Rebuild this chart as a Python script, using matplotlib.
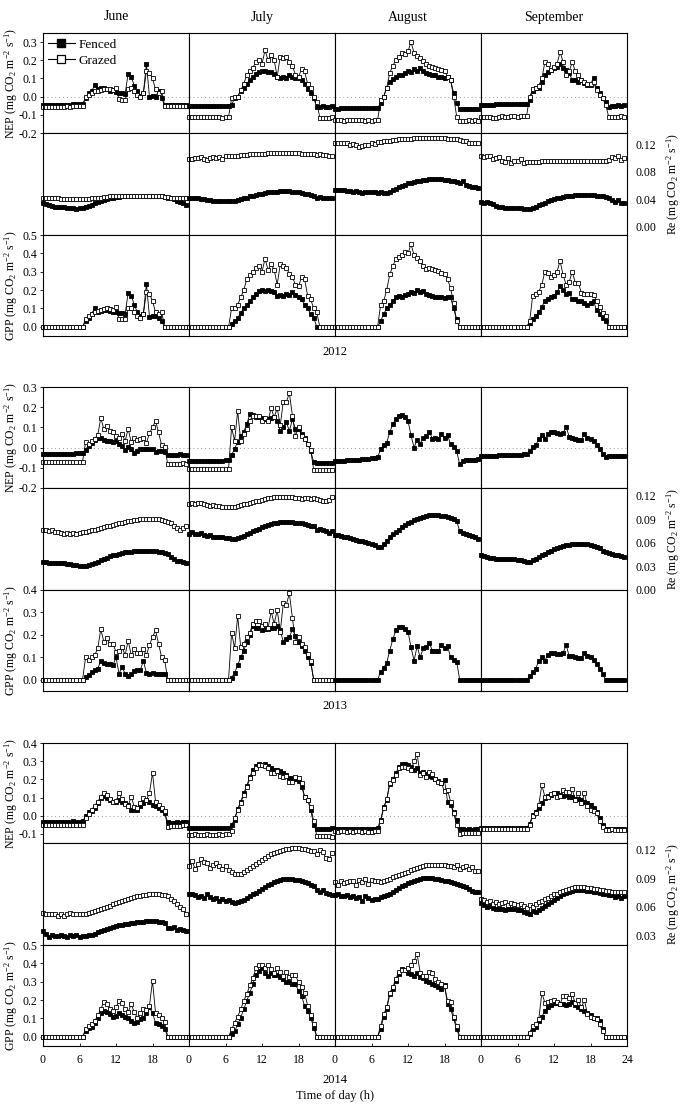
import numpy as np
import matplotlib
matplotlib.use('Agg')
import matplotlib.pyplot as plt
from matplotlib.lines import Line2D

plt.rcParams['font.family'] = 'Liberation Serif'
plt.rcParams['mathtext.default'] = 'regular'
plt.rcParams['axes.unicode_minus'] = False

hours = np.arange(48) * 0.5
months = ['June', 'July', 'August', 'September']
years = ['2012', '2013', '2014']
Z = 0.0

# ---------------- 2012 ----------------
nep12_f = [
    [-0.047, -0.047, -0.046, -0.046, -0.046, -0.045, -0.045, -0.045, -0.044, -0.044, -0.043, -0.043, -0.042, -0.042,
     -0.005, 0.02, 0.03, 0.063, 0.04, 0.045, 0.05, 0.04, 0.03, 0.035, 0.025, 0.02, 0.02, 0.015, 0.127, 0.11, 0.06,
     0.03, 0.005, 0.02, 0.18, 0.0, 0.005, 0.0, 0.03, -0.01, -0.045,
     -0.045, -0.044, -0.045, -0.044, -0.045, -0.044, -0.045],
    [-0.05, -0.051, -0.05, -0.05, -0.051, -0.052, -0.052, -0.051, -0.05, -0.05, -0.05, -0.049, -0.049, -0.05,
     -0.045, -0.01, 0.0, 0.03, 0.05, 0.07, 0.09, 0.11, 0.125, 0.135, 0.14, 0.14, 0.135, 0.135, 0.125, 0.11, 0.105,
     0.11, 0.105, 0.12, 0.11, 0.105, 0.10, 0.09, 0.07, 0.04, 0.02, -0.01,
     -0.055, -0.055, -0.054, -0.055, -0.055, -0.054],
    [-0.066, -0.066, -0.065, -0.065, -0.065, -0.064, -0.064, -0.064, -0.063, -0.063, -0.063, -0.062, -0.062, -0.062, -0.062,
     -0.035, 0.0, 0.05, 0.08, 0.095, 0.11, 0.12, 0.12, 0.13, 0.14, 0.135, 0.15, 0.14, 0.155, 0.14, 0.13, 0.125, 0.12,
     0.12, 0.11, 0.11, 0.105, 0.11, 0.09, 0.02, -0.035,
     -0.07, -0.069, -0.069, -0.068, -0.068, -0.068, -0.068],
    [-0.045, -0.047, -0.044, -0.046, -0.045, -0.043, -0.042, -0.042, -0.041, -0.041, -0.04, -0.04, -0.04, -0.04, -0.04, -0.04,
     -0.02, 0.03, 0.045, 0.05, 0.08, 0.12, 0.135, 0.145, 0.155, 0.165, 0.18, 0.155, 0.145, 0.13, 0.09, 0.09, 0.08,
     0.09, 0.075, 0.065, 0.065, 0.105, 0.045, 0.02, -0.01, -0.03,
     -0.055, -0.05, -0.052, -0.048, -0.05, -0.047],
]
nep12_g = [
    [-0.056, -0.055, -0.055, -0.056, -0.055, -0.055, -0.055, -0.055, -0.054, -0.055, -0.054, -0.054, -0.054, -0.054,
     0.0, 0.01, 0.02, 0.03, 0.03, 0.035, 0.04, 0.04, 0.04, 0.035, 0.05, -0.015, -0.02, -0.02, 0.04, 0.05, 0.03,
     0.01, 0.0, 0.02, 0.14, 0.13, 0.10, 0.04, 0.02, 0.03, -0.05,
     -0.05, -0.05, -0.052, -0.05, -0.05, -0.05, -0.051],
    [-0.113, -0.113, -0.112, -0.114, -0.112, -0.111, -0.113, -0.114, -0.112, -0.113, -0.114, -0.115, -0.114, -0.113,
     -0.01, 0.0, 0.0, 0.035, 0.07, 0.12, 0.14, 0.16, 0.19, 0.20, 0.18, 0.255, 0.20, 0.23, 0.20, 0.11, 0.22, 0.21,
     0.22, 0.19, 0.17, 0.12, 0.11, 0.15, 0.14, 0.07, 0.05, 0.0, -0.03,
     -0.115, -0.115, -0.116, -0.115, -0.114],
    [-0.13, -0.131, -0.13, -0.132, -0.13, -0.131, -0.13, -0.129, -0.13, -0.131, -0.133, -0.13, -0.135, -0.128, -0.13,
     -0.02, 0.0, 0.05, 0.13, 0.17, 0.20, 0.22, 0.24, 0.235, 0.25, 0.30, 0.24, 0.225, 0.215, 0.195, 0.18, 0.17, 0.165,
     0.155, 0.15, 0.145, 0.14, 0.11, 0.09, 0.0, -0.11,
     -0.135, -0.132, -0.132, -0.131, -0.132, -0.131, -0.132],
    [-0.11, -0.112, -0.114, -0.113, -0.115, -0.115, -0.114, -0.108, -0.11, -0.112, -0.106, -0.108, -0.11, -0.108, -0.106, -0.104,
     0.0, 0.04, 0.05, 0.06, 0.10, 0.19, 0.18, 0.145, 0.165, 0.18, 0.245, 0.19, 0.12, 0.14, 0.19, 0.14, 0.12, 0.09,
     0.08, 0.07, 0.07, 0.08, 0.035, 0.01, -0.01, -0.045,
     -0.113, -0.113, -0.112, -0.11, -0.108, -0.11],
]
re12_f = [
    [0.034, 0.033, 0.031, 0.030, 0.029, 0.029, 0.028, 0.028, 0.027, 0.027, 0.027, 0.026, 0.027, 0.027, 0.028, 0.030,
     0.032, 0.034, 0.036, 0.037, 0.039, 0.040, 0.041, 0.042, 0.043, 0.043, 0.044, 0.044, 0.045, 0.045, 0.045, 0.045,
     0.045, 0.045, 0.045, 0.045, 0.045, 0.044, 0.044, 0.044, 0.043, 0.042, 0.041, 0.040, 0.038, 0.036, 0.034, 0.031],
    [0.042, 0.041, 0.041, 0.042, 0.040, 0.040, 0.039, 0.039, 0.038, 0.038, 0.038, 0.037, 0.037, 0.037, 0.038, 0.038,
     0.039, 0.040, 0.041, 0.042, 0.044, 0.045, 0.046, 0.047, 0.048, 0.049, 0.050, 0.050, 0.051, 0.051, 0.052, 0.052,
     0.052, 0.052, 0.051, 0.051, 0.050, 0.049, 0.048, 0.047, 0.046, 0.045, 0.042, 0.043, 0.041, 0.041, 0.042, 0.041],
    [0.054, 0.054, 0.053, 0.053, 0.052, 0.052, 0.051, 0.052, 0.050, 0.049, 0.051, 0.050, 0.050, 0.050, 0.049, 0.051,
     0.049, 0.049, 0.051, 0.053, 0.055, 0.057, 0.059, 0.061, 0.063, 0.064, 0.065, 0.066, 0.067, 0.068, 0.068, 0.069,
     0.069, 0.069, 0.069, 0.069, 0.068, 0.068, 0.067, 0.066, 0.065, 0.064, 0.066, 0.061, 0.059, 0.058, 0.057, 0.056],
    [0.036, 0.034, 0.036, 0.035, 0.033, 0.030, 0.028, 0.028, 0.027, 0.027, 0.027, 0.027, 0.027, 0.027, 0.026, 0.026,
     0.026, 0.027, 0.029, 0.031, 0.033, 0.035, 0.037, 0.039, 0.040, 0.041, 0.042, 0.043, 0.044, 0.045, 0.045, 0.046,
     0.046, 0.046, 0.046, 0.046, 0.046, 0.046, 0.045, 0.045, 0.044, 0.043, 0.041, 0.039, 0.036, 0.039, 0.035, 0.034],
]
re12_g = [
    [0.041, 0.041, 0.041, 0.041, 0.041, 0.041, 0.040, 0.040, 0.040, 0.040, 0.040, 0.040, 0.040, 0.040, 0.040, 0.040,
     0.041, 0.041, 0.042, 0.042, 0.043, 0.043, 0.044, 0.044, 0.044, 0.044, 0.044, 0.044, 0.044, 0.044, 0.044, 0.044,
     0.044, 0.044, 0.044, 0.044, 0.044, 0.044, 0.044, 0.044, 0.043, 0.043, 0.042, 0.042, 0.041, 0.041, 0.041, 0.041],
    [0.098, 0.098, 0.099, 0.099, 0.101, 0.098, 0.097, 0.100, 0.101, 0.099, 0.101, 0.098, 0.103, 0.102, 0.102, 0.103,
     0.103, 0.104, 0.104, 0.104, 0.105, 0.105, 0.105, 0.106, 0.106, 0.106, 0.107, 0.107, 0.107, 0.107, 0.107, 0.107,
     0.107, 0.107, 0.107, 0.107, 0.107, 0.106, 0.106, 0.106, 0.105, 0.105, 0.104, 0.105, 0.104, 0.104, 0.103, 0.103],
    [0.121, 0.121, 0.121, 0.121, 0.121, 0.119, 0.120, 0.118, 0.116, 0.117, 0.118, 0.119, 0.121, 0.120, 0.123, 0.123,
     0.124, 0.125, 0.125, 0.126, 0.126, 0.127, 0.127, 0.128, 0.128, 0.128, 0.129, 0.129, 0.129, 0.129, 0.129, 0.129,
     0.129, 0.129, 0.129, 0.129, 0.129, 0.128, 0.128, 0.128, 0.127, 0.126, 0.124, 0.124, 0.122, 0.122, 0.121, 0.121],
    [0.102, 0.101, 0.102, 0.102, 0.098, 0.100, 0.101, 0.096, 0.094, 0.099, 0.093, 0.096, 0.095, 0.098, 0.093, 0.094,
     0.094, 0.094, 0.094, 0.094, 0.095, 0.095, 0.095, 0.095, 0.096, 0.096, 0.096, 0.096, 0.096, 0.096, 0.096, 0.096,
     0.096, 0.096, 0.096, 0.096, 0.096, 0.096, 0.096, 0.096, 0.095, 0.095, 0.097, 0.101, 0.099, 0.102, 0.097, 0.099],
]
gpp12_f = [
    [Z] * 14 + [0.03, 0.05, 0.07, 0.105, 0.08, 0.085, 0.09, 0.09, 0.085, 0.08, 0.08, 0.075, 0.075, 0.07, 0.185, 0.17,
                0.12, 0.08, 0.06, 0.07, 0.235, 0.055, 0.06, 0.06, 0.05, 0.03, 0.0] + [Z] * 7,
    [Z] * 14 + [0.015, 0.03, 0.05, 0.075, 0.10, 0.12, 0.14, 0.16, 0.18, 0.195, 0.20, 0.195, 0.20, 0.195, 0.19, 0.17,
                0.175, 0.17, 0.18, 0.175, 0.19, 0.175, 0.16, 0.15, 0.12, 0.10, 0.07, 0.05, 0.0] + [Z] * 5,
    [Z] * 15 + [0.03, 0.07, 0.10, 0.12, 0.14, 0.16, 0.17, 0.165, 0.175, 0.18, 0.19, 0.185, 0.20, 0.19, 0.195, 0.18,
                0.175, 0.17, 0.165, 0.165, 0.16, 0.155, 0.16, 0.16, 0.10, 0.04, 0.0] + [Z] * 6,
    [Z] * 16 + [0.02, 0.04, 0.06, 0.08, 0.11, 0.14, 0.15, 0.16, 0.17, 0.19, 0.22, 0.20, 0.18, 0.185, 0.15, 0.15,
                0.14, 0.14, 0.13, 0.12, 0.13, 0.14, 0.09, 0.07, 0.05, 0.03, 0.0] + [Z] * 5,
]
gpp12_g = [
    [Z] * 14 + [0.04, 0.06, 0.07, 0.08, 0.085, 0.09, 0.095, 0.10, 0.095, 0.09, 0.11, 0.04, 0.04, 0.04, 0.10, 0.10,
                0.08, 0.06, 0.05, 0.07, 0.19, 0.18, 0.14, 0.08, 0.07, 0.08, 0.0] + [Z] * 7,
    [Z] * 14 + [0.10, 0.10, 0.12, 0.16, 0.20, 0.26, 0.28, 0.30, 0.32, 0.33, 0.30, 0.37, 0.31, 0.34, 0.31, 0.23,
                0.34, 0.33, 0.32, 0.29, 0.27, 0.23, 0.22, 0.27, 0.26, 0.17, 0.15, 0.10, 0.08, 0.0] + [Z] * 4,
    [Z] * 15 + [0.12, 0.14, 0.20, 0.285, 0.33, 0.37, 0.38, 0.39, 0.41, 0.40, 0.45, 0.39, 0.375, 0.36, 0.33, 0.315,
                0.32, 0.315, 0.31, 0.305, 0.295, 0.29, 0.26, 0.21, 0.13, 0.03, 0.0] + [Z] * 6,
    [Z] * 16 + [0.03, 0.17, 0.18, 0.19, 0.23, 0.30, 0.295, 0.27, 0.28, 0.30, 0.36, 0.28, 0.23, 0.245, 0.30, 0.24,
                0.24, 0.185, 0.18, 0.18, 0.18, 0.175, 0.14, 0.11, 0.075, 0.06, 0.0] + [Z] * 5,
]

# ---------------- 2013 ----------------
nep13_f = [
    [-0.034, -0.034, -0.033, -0.033, -0.033, -0.032, -0.032, -0.031, -0.031, -0.030, -0.030, -0.029, -0.029, -0.028,
     -0.01, 0.01, 0.025, 0.04, 0.05, 0.05, 0.04, 0.035, 0.035, 0.03, 0.035, 0.02, 0.01, -0.012, 0.005, -0.005,
     -0.025, -0.015, -0.005, -0.008, -0.005, -0.005, -0.008, -0.02, -0.017, -0.017, -0.02,
     -0.038, -0.036, -0.035, -0.035, -0.034, -0.035, -0.035],
    [-0.067, -0.067, -0.066, -0.066, -0.066, -0.065, -0.066, -0.065, -0.065, -0.064, -0.064, -0.064, -0.063, -0.063,
     -0.038, -0.005, 0.028, 0.058, 0.078, 0.117, 0.165, 0.16, 0.15, 0.15, 0.145, 0.142, 0.142, 0.145, 0.15, 0.133,
     0.083, 0.10, 0.125, 0.083, 0.14, 0.092, 0.09, 0.067, 0.05, 0.02, -0.017,
     -0.072, -0.075, -0.074, -0.075, -0.076, -0.075, -0.074],
    [-0.067, -0.066, -0.065, -0.064, -0.063, -0.062, -0.061, -0.060, -0.059, -0.058, -0.056, -0.055, -0.053, -0.052,
     -0.048, -0.008, 0.012, 0.025, 0.075, 0.117, 0.142, 0.158, 0.162, 0.15, 0.133, 0.06, 0.0, 0.04, 0.017, 0.05,
     0.055, 0.078, 0.045, 0.05, 0.045, 0.065, 0.05, 0.062, 0.017, 0.005, -0.017,
     -0.083, -0.068, -0.063, -0.062, -0.060, -0.059, -0.058],
    [-0.042, -0.042, -0.041, -0.041, -0.040, -0.040, -0.039, -0.039, -0.038, -0.038, -0.037, -0.037, -0.036, -0.035, -0.034, -0.033,
     -0.017, 0.005, 0.012, 0.042, 0.062, 0.042, 0.067, 0.075, 0.075, 0.07, 0.067, 0.072, 0.103, 0.053, 0.05, 0.042,
     0.038, 0.04, 0.067, 0.05, 0.045, 0.033, 0.015, -0.005, -0.03,
     -0.045, -0.043, -0.042, -0.041, -0.041, -0.040, -0.040],
]
nep13_g = [
    [-0.072, -0.072, -0.073, -0.072, -0.071, -0.072, -0.072, -0.071, -0.071, -0.072, -0.071, -0.071, -0.071, -0.071,
     0.028, 0.017, 0.033, 0.045, 0.062, 0.147, 0.092, 0.108, 0.08, 0.078, 0.058, 0.05, 0.067, 0.033, 0.092, 0.028,
     0.05, 0.038, 0.045, 0.05, 0.022, 0.072, 0.10, 0.133, 0.075, 0.012, 0.005,
     -0.083, -0.08, -0.08, -0.079, -0.08, -0.078, -0.08],
    [-0.105, -0.106, -0.107, -0.105, -0.106, -0.107, -0.106, -0.107, -0.106, -0.106, -0.105, -0.106, -0.106, -0.105,
     0.10, 0.033, 0.183, 0.033, 0.067, 0.092, 0.133, 0.158, 0.158, 0.155, 0.133, 0.145, 0.133, 0.195, 0.15, 0.195,
     0.11, 0.228, 0.225, 0.27, 0.158, 0.058, 0.10, 0.058, 0.042, 0.02, -0.01,
     -0.11, -0.11, -0.111, -0.11, -0.112, -0.113, -0.11],
    None,
    None,
]
re13_f = [
    [0.036, 0.036, 0.035, 0.035, 0.035, 0.034, 0.034, 0.034, 0.033, 0.033, 0.032, 0.032, 0.031, 0.031, 0.031, 0.032,
     0.033, 0.035, 0.036, 0.038, 0.040, 0.041, 0.043, 0.044, 0.045, 0.046, 0.047, 0.048, 0.049, 0.049, 0.050, 0.050,
     0.050, 0.050, 0.050, 0.050, 0.050, 0.050, 0.049, 0.048, 0.047, 0.046, 0.042, 0.039, 0.037, 0.037, 0.036, 0.035],
    [0.071, 0.074, 0.072, 0.071, 0.073, 0.070, 0.069, 0.070, 0.068, 0.068, 0.067, 0.067, 0.066, 0.066, 0.065, 0.065,
     0.066, 0.067, 0.069, 0.071, 0.073, 0.075, 0.077, 0.078, 0.080, 0.081, 0.083, 0.084, 0.085, 0.086, 0.087, 0.087,
     0.087, 0.087, 0.087, 0.086, 0.086, 0.085, 0.084, 0.083, 0.082, 0.081, 0.077, 0.078, 0.076, 0.075, 0.073, 0.075],
    [0.070, 0.070, 0.069, 0.068, 0.067, 0.066, 0.065, 0.064, 0.063, 0.062, 0.061, 0.060, 0.059, 0.057, 0.055, 0.055,
     0.058, 0.063, 0.067, 0.071, 0.074, 0.077, 0.080, 0.083, 0.085, 0.087, 0.089, 0.090, 0.092, 0.093, 0.094, 0.095,
     0.095, 0.095, 0.095, 0.094, 0.094, 0.093, 0.092, 0.090, 0.088, 0.075, 0.073, 0.072, 0.070, 0.069, 0.067, 0.065],
    [0.044, 0.043, 0.042, 0.041, 0.041, 0.040, 0.040, 0.040, 0.040, 0.040, 0.040, 0.040, 0.038, 0.038, 0.037, 0.036,
     0.036, 0.038, 0.040, 0.042, 0.044, 0.046, 0.048, 0.050, 0.052, 0.053, 0.055, 0.056, 0.057, 0.057, 0.058, 0.058,
     0.058, 0.058, 0.058, 0.058, 0.057, 0.056, 0.055, 0.053, 0.050, 0.048, 0.047, 0.046, 0.045, 0.044, 0.043, 0.042],
]
re13_g = [
    [0.076, 0.076, 0.075, 0.076, 0.074, 0.074, 0.073, 0.072, 0.073, 0.071, 0.073, 0.072, 0.073, 0.074, 0.074, 0.075,
     0.076, 0.077, 0.078, 0.079, 0.080, 0.081, 0.082, 0.083, 0.084, 0.085, 0.086, 0.087, 0.088, 0.088, 0.089, 0.089,
     0.090, 0.090, 0.090, 0.090, 0.090, 0.090, 0.090, 0.089, 0.088, 0.087, 0.085, 0.082, 0.079, 0.077, 0.079, 0.081],
    [0.110, 0.111, 0.109, 0.111, 0.111, 0.110, 0.108, 0.107, 0.108, 0.107, 0.107, 0.106, 0.106, 0.106, 0.106, 0.106,
     0.107, 0.108, 0.109, 0.110, 0.111, 0.112, 0.113, 0.114, 0.115, 0.116, 0.117, 0.117, 0.118, 0.118, 0.119, 0.119,
     0.119, 0.118, 0.118, 0.117, 0.117, 0.116, 0.117, 0.117, 0.116, 0.117, 0.116, 0.115, 0.114, 0.114, 0.115, 0.118],
    None,
    None,
]
gpp13_f = [
    [Z] * 14 + [0.012, 0.02, 0.035, 0.042, 0.05, 0.084, 0.075, 0.072, 0.07, 0.065, 0.10, 0.027, 0.057, 0.027, 0.015,
                0.027, 0.04, 0.042, 0.042, 0.085, 0.03, 0.024, 0.03, 0.024, 0.027, 0.024, 0.024] + [Z] * 7,
    [Z] * 14 + [0.01, 0.03, 0.065, 0.10, 0.13, 0.17, 0.20, 0.24, 0.23, 0.23, 0.22, 0.225, 0.225, 0.23, 0.23, 0.24,
                0.22, 0.17, 0.18, 0.19, 0.225, 0.195, 0.17, 0.15, 0.13, 0.10, 0.075] + [Z] * 7,
    [Z] * 15 + [0.035, 0.054, 0.075, 0.13, 0.18, 0.22, 0.235, 0.235, 0.225, 0.215, 0.145, 0.085, 0.15, 0.10, 0.14,
                0.145, 0.165, 0.13, 0.13, 0.13, 0.155, 0.14, 0.15, 0.10, 0.09, 0.08] + [Z] * 7,
    [Z] * 16 + [0.015, 0.035, 0.05, 0.085, 0.10, 0.085, 0.11, 0.12, 0.12, 0.115, 0.115, 0.12, 0.155, 0.105, 0.105,
                0.10, 0.095, 0.095, 0.12, 0.105, 0.10, 0.09, 0.07, 0.05, 0.025] + [Z] * 7,
]
gpp13_g = [
    [Z] * 14 + [0.10, 0.09, 0.10, 0.11, 0.14, 0.225, 0.17, 0.185, 0.16, 0.16, 0.125, 0.13, 0.145, 0.11, 0.175,
                0.11, 0.135, 0.12, 0.12, 0.135, 0.11, 0.155, 0.19, 0.22, 0.16, 0.10, 0.09] + [Z] * 7,
    [Z] * 14 + [0.21, 0.14, 0.285, 0.145, 0.16, 0.19, 0.21, 0.25, 0.26, 0.26, 0.24, 0.25, 0.23, 0.305, 0.25, 0.31,
                0.215, 0.34, 0.335, 0.385, 0.275, 0.17, 0.19, 0.16, 0.145, 0.115, 0.085] + [Z] * 7,
    None,
    None,
]

# ---------------- 2014 ----------------
nep14_f = [
    [-0.034, -0.033, -0.035, -0.032, -0.034, -0.033, -0.033, -0.034, -0.032, -0.033, -0.031, -0.033, -0.032, -0.031,
     -0.004, 0.018, 0.024, 0.042, 0.069, 0.096, 0.109, 0.10, 0.084, 0.073, 0.075, 0.087, 0.078, 0.069, 0.06, 0.033,
     0.029, 0.03, 0.055, 0.069, 0.087, 0.078, 0.06, 0.051, 0.042, 0.033, 0.015,
     -0.036, -0.038, -0.04, -0.037, -0.038, -0.036, -0.037],
    [-0.068, -0.067, -0.068, -0.066, -0.067, -0.068, -0.067, -0.066, -0.067, -0.068, -0.066, -0.067, -0.066, -0.065,
     -0.049, -0.022, 0.036, 0.078, 0.124, 0.164, 0.215, 0.25, 0.273, 0.284, 0.278, 0.284, 0.275, 0.26, 0.25, 0.25,
     0.247, 0.236, 0.225, 0.205, 0.205, 0.2, 0.193, 0.16, 0.105, 0.087, 0.033, -0.05,
     -0.075, -0.072, -0.072, -0.071, -0.072, -0.07],
    [-0.073, -0.072, -0.073, -0.072, -0.074, -0.073, -0.072, -0.073, -0.072, -0.073, -0.072, -0.071, -0.072, -0.071,
     -0.07, -0.022, 0.047, 0.087, 0.175, 0.2, 0.233, 0.27, 0.287, 0.284, 0.278, 0.27, 0.25, 0.26, 0.233, 0.242,
     0.229, 0.218, 0.212, 0.2, 0.19, 0.18, 0.196, 0.078, 0.06, 0.018, -0.022, -0.073,
     -0.075, -0.076, -0.075, -0.076, -0.075, -0.075],
    [-0.067, -0.068, -0.066, -0.067, -0.068, -0.067, -0.066, -0.067, -0.068, -0.067, -0.066, -0.067, -0.067, -0.066, -0.067, -0.066,
     -0.044, 0.005, 0.018, 0.042, 0.069, 0.096, 0.109, 0.115, 0.124, 0.127, 0.115, 0.109, 0.115, 0.102, 0.105, 0.09,
     0.09, 0.087, 0.078, 0.069, 0.06, 0.042, 0.02, -0.013, -0.05, -0.073,
     -0.072, -0.073, -0.072, -0.073, -0.072, -0.072],
]
nep14_g = [
    [-0.05, -0.052, -0.05, -0.051, -0.052, -0.05, -0.05, -0.051, -0.052, -0.05, -0.051, -0.052, -0.053, -0.052,
     -0.013, 0.011, 0.033, 0.055, 0.078, 0.105, 0.127, 0.115, 0.09, 0.078, 0.08, 0.124, 0.09, 0.065, 0.055, 0.105,
     0.05, 0.042, 0.069, 0.096, 0.087, 0.124, 0.236, 0.078, 0.06, 0.042, 0.025,
     -0.062, -0.055, -0.055, -0.054, -0.056, -0.053, -0.052],
    [-0.104, -0.106, -0.103, -0.105, -0.107, -0.104, -0.103, -0.105, -0.104, -0.106, -0.103, -0.104, -0.102, -0.100,
     -0.085, -0.013, 0.033, 0.07, 0.115, 0.157, 0.205, 0.233, 0.26, 0.278, 0.278, 0.273, 0.26, 0.236, 0.236, 0.245,
     0.218, 0.215, 0.218, 0.187, 0.185, 0.215, 0.21, 0.178, 0.105, 0.087, 0.05, -0.03,
     -0.11, -0.11, -0.109, -0.11, -0.112, -0.115],
    [-0.085, -0.088, -0.084, -0.086, -0.087, -0.085, -0.088, -0.086, -0.085, -0.087, -0.086, -0.088, -0.087, -0.085,
     -0.085, -0.03, 0.042, 0.09, 0.178, 0.196, 0.224, 0.26, 0.27, 0.27, 0.265, 0.25, 0.3, 0.34, 0.224, 0.236,
     0.215, 0.242, 0.229, 0.2, 0.187, 0.178, 0.135, 0.142, 0.078, 0.015, -0.05, -0.098,
     -0.095, -0.096, -0.094, -0.095, -0.096, -0.094],
    [-0.072, -0.073, -0.074, -0.073, -0.072, -0.074, -0.073, -0.072, -0.073, -0.074, -0.073, -0.072, -0.073, -0.072, -0.073, -0.072,
     -0.05, -0.004, 0.015, 0.06, 0.169, 0.105, 0.105, 0.12, 0.125, 0.105, 0.11, 0.142, 0.133, 0.133, 0.145, 0.087,
     0.124, 0.069, 0.124, 0.051, 0.033, 0.024, 0.015, -0.031, -0.062, -0.076,
     -0.076, -0.075, -0.076, -0.077, -0.076, -0.076],
]
re14_f = [
    [0.035, 0.032, 0.028, 0.030, 0.029, 0.029, 0.030, 0.029, 0.028, 0.030, 0.029, 0.030, 0.028, 0.029, 0.029, 0.030,
     0.031, 0.032, 0.034, 0.035, 0.036, 0.037, 0.038, 0.039, 0.040, 0.041, 0.041, 0.042, 0.042, 0.043, 0.043, 0.044,
     0.044, 0.044, 0.045, 0.045, 0.045, 0.045, 0.044, 0.044, 0.043, 0.038, 0.038, 0.039, 0.036, 0.037, 0.036, 0.035],
    [0.073, 0.073, 0.072, 0.070, 0.071, 0.069, 0.073, 0.070, 0.068, 0.069, 0.066, 0.068, 0.066, 0.067, 0.065, 0.064,
     0.065, 0.066, 0.067, 0.069, 0.071, 0.073, 0.075, 0.077, 0.079, 0.081, 0.083, 0.084, 0.086, 0.087, 0.088, 0.089,
     0.089, 0.089, 0.089, 0.088, 0.088, 0.087, 0.086, 0.085, 0.083, 0.082, 0.078, 0.076, 0.078, 0.075, 0.073, 0.072],
    [0.072, 0.073, 0.071, 0.071, 0.072, 0.070, 0.071, 0.069, 0.070, 0.066, 0.071, 0.069, 0.067, 0.068, 0.068, 0.070,
     0.071, 0.072, 0.074, 0.076, 0.078, 0.080, 0.082, 0.083, 0.085, 0.086, 0.087, 0.088, 0.089, 0.090, 0.090, 0.090,
     0.090, 0.089, 0.089, 0.088, 0.087, 0.087, 0.086, 0.085, 0.084, 0.083, 0.082, 0.081, 0.079, 0.077, 0.076, 0.076],
    [0.064, 0.062, 0.060, 0.061, 0.059, 0.058, 0.058, 0.058, 0.057, 0.058, 0.058, 0.058, 0.057, 0.057, 0.055, 0.054,
     0.053, 0.056, 0.055, 0.057, 0.059, 0.061, 0.063, 0.065, 0.067, 0.069, 0.071, 0.073, 0.075, 0.076, 0.077, 0.078,
     0.078, 0.078, 0.078, 0.077, 0.077, 0.076, 0.076, 0.075, 0.074, 0.073, 0.072, 0.072, 0.070, 0.071, 0.069, 0.071],
]
re14_g = [
    [0.054, 0.052, 0.053, 0.052, 0.053, 0.050, 0.052, 0.050, 0.053, 0.054, 0.053, 0.052, 0.052, 0.053, 0.052, 0.054,
     0.055, 0.056, 0.057, 0.058, 0.059, 0.060, 0.061, 0.063, 0.064, 0.065, 0.066, 0.067, 0.068, 0.069, 0.070, 0.071,
     0.071, 0.072, 0.072, 0.073, 0.073, 0.073, 0.073, 0.072, 0.072, 0.071, 0.068, 0.066, 0.063, 0.060, 0.058, 0.052],
    [0.103, 0.108, 0.100, 0.105, 0.110, 0.107, 0.106, 0.101, 0.104, 0.106, 0.103, 0.100, 0.103, 0.099, 0.097, 0.095,
     0.094, 0.095, 0.097, 0.099, 0.101, 0.103, 0.105, 0.107, 0.109, 0.111, 0.113, 0.115, 0.117, 0.118, 0.119, 0.120,
     0.121, 0.121, 0.122, 0.122, 0.122, 0.121, 0.121, 0.120, 0.119, 0.119, 0.115, 0.120, 0.118, 0.111, 0.110, 0.116],
    [0.086, 0.083, 0.087, 0.085, 0.086, 0.087, 0.087, 0.083, 0.088, 0.086, 0.089, 0.084, 0.088, 0.087, 0.087, 0.086,
     0.087, 0.088, 0.089, 0.091, 0.092, 0.093, 0.095, 0.096, 0.097, 0.099, 0.100, 0.101, 0.102, 0.103, 0.104, 0.104,
     0.104, 0.104, 0.104, 0.104, 0.104, 0.103, 0.103, 0.102, 0.104, 0.100, 0.102, 0.103, 0.100, 0.102, 0.098, 0.098],
    [0.068, 0.067, 0.065, 0.066, 0.063, 0.065, 0.063, 0.064, 0.065, 0.062, 0.064, 0.063, 0.062, 0.063, 0.061, 0.059,
     0.062, 0.060, 0.063, 0.065, 0.066, 0.068, 0.069, 0.071, 0.073, 0.074, 0.076, 0.077, 0.078, 0.079, 0.080, 0.081,
     0.081, 0.081, 0.081, 0.080, 0.080, 0.079, 0.079, 0.078, 0.078, 0.077, 0.077, 0.076, 0.076, 0.076, 0.076, 0.076],
]
gpp14_f = [
    [Z] * 14 + [0.03, 0.05, 0.055, 0.073, 0.105, 0.128, 0.14, 0.135, 0.122, 0.11, 0.115, 0.128, 0.12, 0.11, 0.10,
                0.086, 0.077, 0.078, 0.095, 0.105, 0.128, 0.16, 0.13, 0.077, 0.068, 0.058, 0.045] + [Z] * 7,
    [Z] * 14 + [0.013, 0.03, 0.068, 0.105, 0.15, 0.196, 0.24, 0.287, 0.336, 0.36, 0.373, 0.35, 0.333, 0.35, 0.336,
                0.336, 0.324, 0.315, 0.296, 0.296, 0.29, 0.287, 0.25, 0.224, 0.168, 0.14, 0.105, 0.05] + [Z] * 6,
    [Z] * 15 + [0.04, 0.11, 0.15, 0.232, 0.26, 0.305, 0.342, 0.37, 0.366, 0.35, 0.342, 0.333, 0.347, 0.324, 0.318,
                0.305, 0.3, 0.29, 0.28, 0.27, 0.26, 0.28, 0.177, 0.15, 0.1, 0.04] + [Z] * 7,
    [Z] * 16 + [0.013, 0.04, 0.055, 0.086, 0.11, 0.14, 0.16, 0.172, 0.183, 0.186, 0.177, 0.18, 0.175, 0.18, 0.19,
                0.175, 0.16, 0.15, 0.14, 0.13, 0.117, 0.105, 0.1, 0.085, 0.04] + [Z] * 7,
]
gpp14_g = [
    [Z] * 14 + [0.04, 0.058, 0.068, 0.086, 0.117, 0.15, 0.19, 0.177, 0.15, 0.14, 0.16, 0.195, 0.186, 0.15, 0.135,
                0.177, 0.135, 0.105, 0.13, 0.154, 0.146, 0.17, 0.305, 0.13, 0.117, 0.1, 0.08] + [Z] * 7,
    [Z] * 14 + [0.04, 0.077, 0.11, 0.15, 0.196, 0.232, 0.28, 0.32, 0.373, 0.39, 0.39, 0.373, 0.39, 0.37, 0.35,
                0.373, 0.355, 0.333, 0.355, 0.324, 0.336, 0.336, 0.296, 0.27, 0.24, 0.17, 0.117, 0.068] + [Z] * 6,
    [Z] * 15 + [0.058, 0.122, 0.16, 0.24, 0.27, 0.315, 0.355, 0.366, 0.366, 0.373, 0.39, 0.415, 0.45, 0.35, 0.333,
                0.333, 0.355, 0.35, 0.315, 0.296, 0.29, 0.278, 0.196, 0.19, 0.11, 0.058] + [Z] * 7,
    [Z] * 16 + [0.022, 0.058, 0.068, 0.095, 0.24, 0.186, 0.19, 0.196, 0.2, 0.19, 0.177, 0.224, 0.22, 0.214, 0.232,
                0.183, 0.2, 0.16, 0.2, 0.122, 0.11, 0.1, 0.098, 0.068, 0.03] + [Z] * 7,
]

fenced = [(nep12_f, re12_f, gpp12_f), (nep13_f, re13_f, gpp13_f), (nep14_f, re14_f, gpp14_f)]
grazed = [(nep12_g, re12_g, gpp12_g), (nep13_g, re13_g, gpp13_g), (nep14_g, re14_g, gpp14_g)]

ylims = [[(-0.2, 0.35), (-0.012, 0.136), (-0.05, 0.5)],
         [(-0.2, 0.3), (0.0, 0.13), (-0.05, 0.4)],
         [(-0.15, 0.4), (0.02, 0.127), (-0.05, 0.5)]]
yticks = [[[-0.2, -0.1, 0.0, 0.1, 0.2, 0.3], [0.0, 0.04, 0.08, 0.12], [0.0, 0.1, 0.2, 0.3, 0.4, 0.5]],
          [[-0.2, -0.1, 0.0, 0.1, 0.2, 0.3], [0.0, 0.03, 0.06, 0.09, 0.12], [0.0, 0.1, 0.2, 0.3, 0.4]],
          [[-0.1, 0.0, 0.1, 0.2, 0.3, 0.4], [0.03, 0.06, 0.09, 0.12], [0.0, 0.1, 0.2, 0.3, 0.4, 0.5]]]

W, H = 685.0, 1106.0
col_x = [43, 189, 335, 481]
col_w = 146
row_edges = [[33, 133, 235, 336], [387, 488, 590, 691], [743, 843, 945, 1046]]
year_y = [352, 706, 1080]

fig = plt.figure(figsize=(6.85, 11.06), dpi=100)

unit = ' (mg CO$_2$ m$^{-2}$ s$^{-1}$)'
mk = dict(color='k', lw=0.6, marker='s', ms=2.8, mew=0.6, clip_on=False)

for yi in range(3):
    e = row_edges[yi]
    for vi in range(3):
        y0, y1 = e[vi], e[vi + 1]
        for ci in range(4):
            ax = fig.add_axes([col_x[ci] / W, 1 - y1 / H, col_w / W, (y1 - y0) / H])
            f = fenced[yi][vi][ci]
            g = grazed[yi][vi][ci]
            if vi == 0:
                ax.axhline(0, color='0.6', ls=(0, (1, 3)), lw=0.7, zorder=0)
            ax.plot(hours, f, mfc='k', mec='k', **mk)
            if g is not None:
                ax.plot(hours, g, mfc='white', mec='k', **mk)
            ax.set_xlim(0, 24)
            ax.set_ylim(*ylims[yi][vi])
            for s in ax.spines.values():
                s.set_linewidth(0.8)
            ax.tick_params(labelsize=8.5, length=2.5, width=0.6, direction='out', pad=1.5)
            if vi == 1:
                if ci == 3:
                    ax.yaxis.tick_right()
                    ax.set_yticks(yticks[yi][vi])
                    ax.set_yticklabels(['%.2f' % v for v in yticks[yi][vi]])
                    ax.tick_params(axis='y', length=0, pad=6)
                    ax.yaxis.set_label_position('right')
                    ax.set_ylabel('Re' + unit, fontsize=8.5, labelpad=6)
                else:
                    ax.set_yticks([])
            else:
                if ci == 0:
                    ax.set_yticks(yticks[yi][vi])
                    ax.set_yticklabels(['%.1f' % v for v in yticks[yi][vi]])
                    ax.set_ylabel(('NEP' if vi == 0 else 'GPP') + unit, fontsize=8.5)
                    ax.yaxis.set_label_coords(-0.16, 0.5)
                else:
                    ax.set_yticks([])
            if yi == 2 and vi == 2:
                ticks = [0, 6, 12, 18, 24] if ci == 3 else [0, 6, 12, 18]
                ax.set_xticks(ticks)
                ax.tick_params(axis='x', direction='in', length=2, pad=6)
            else:
                ax.set_xticks([])
            if yi == 0 and vi == 0 and ci == 0:
                h = [Line2D([], [], color='k', lw=0.8, marker='s', ms=6, mfc='k', mec='k'),
                     Line2D([], [], color='k', lw=0.8, marker='s', ms=6, mfc='white', mec='k', mew=0.9)]
                ax.legend(h, ['Fenced', 'Grazed'], loc='upper left', frameon=False, fontsize=9.5,
                          handlelength=2.0, handletextpad=0.3, labelspacing=0.3, borderaxespad=0.2,
                          borderpad=0.2)
            if yi == 0 and vi == 0:
                ax.set_title(months[ci], fontsize=10, pad=9)
    fig.text(335 / W, 1 - year_y[yi] / H, years[yi], ha='center', va='center', fontsize=9)

fig.text(335 / W, 1 - 1096 / H, 'Time of day (h)', ha='center', va='center', fontsize=9)

fig.savefig('out.png', dpi=100)
